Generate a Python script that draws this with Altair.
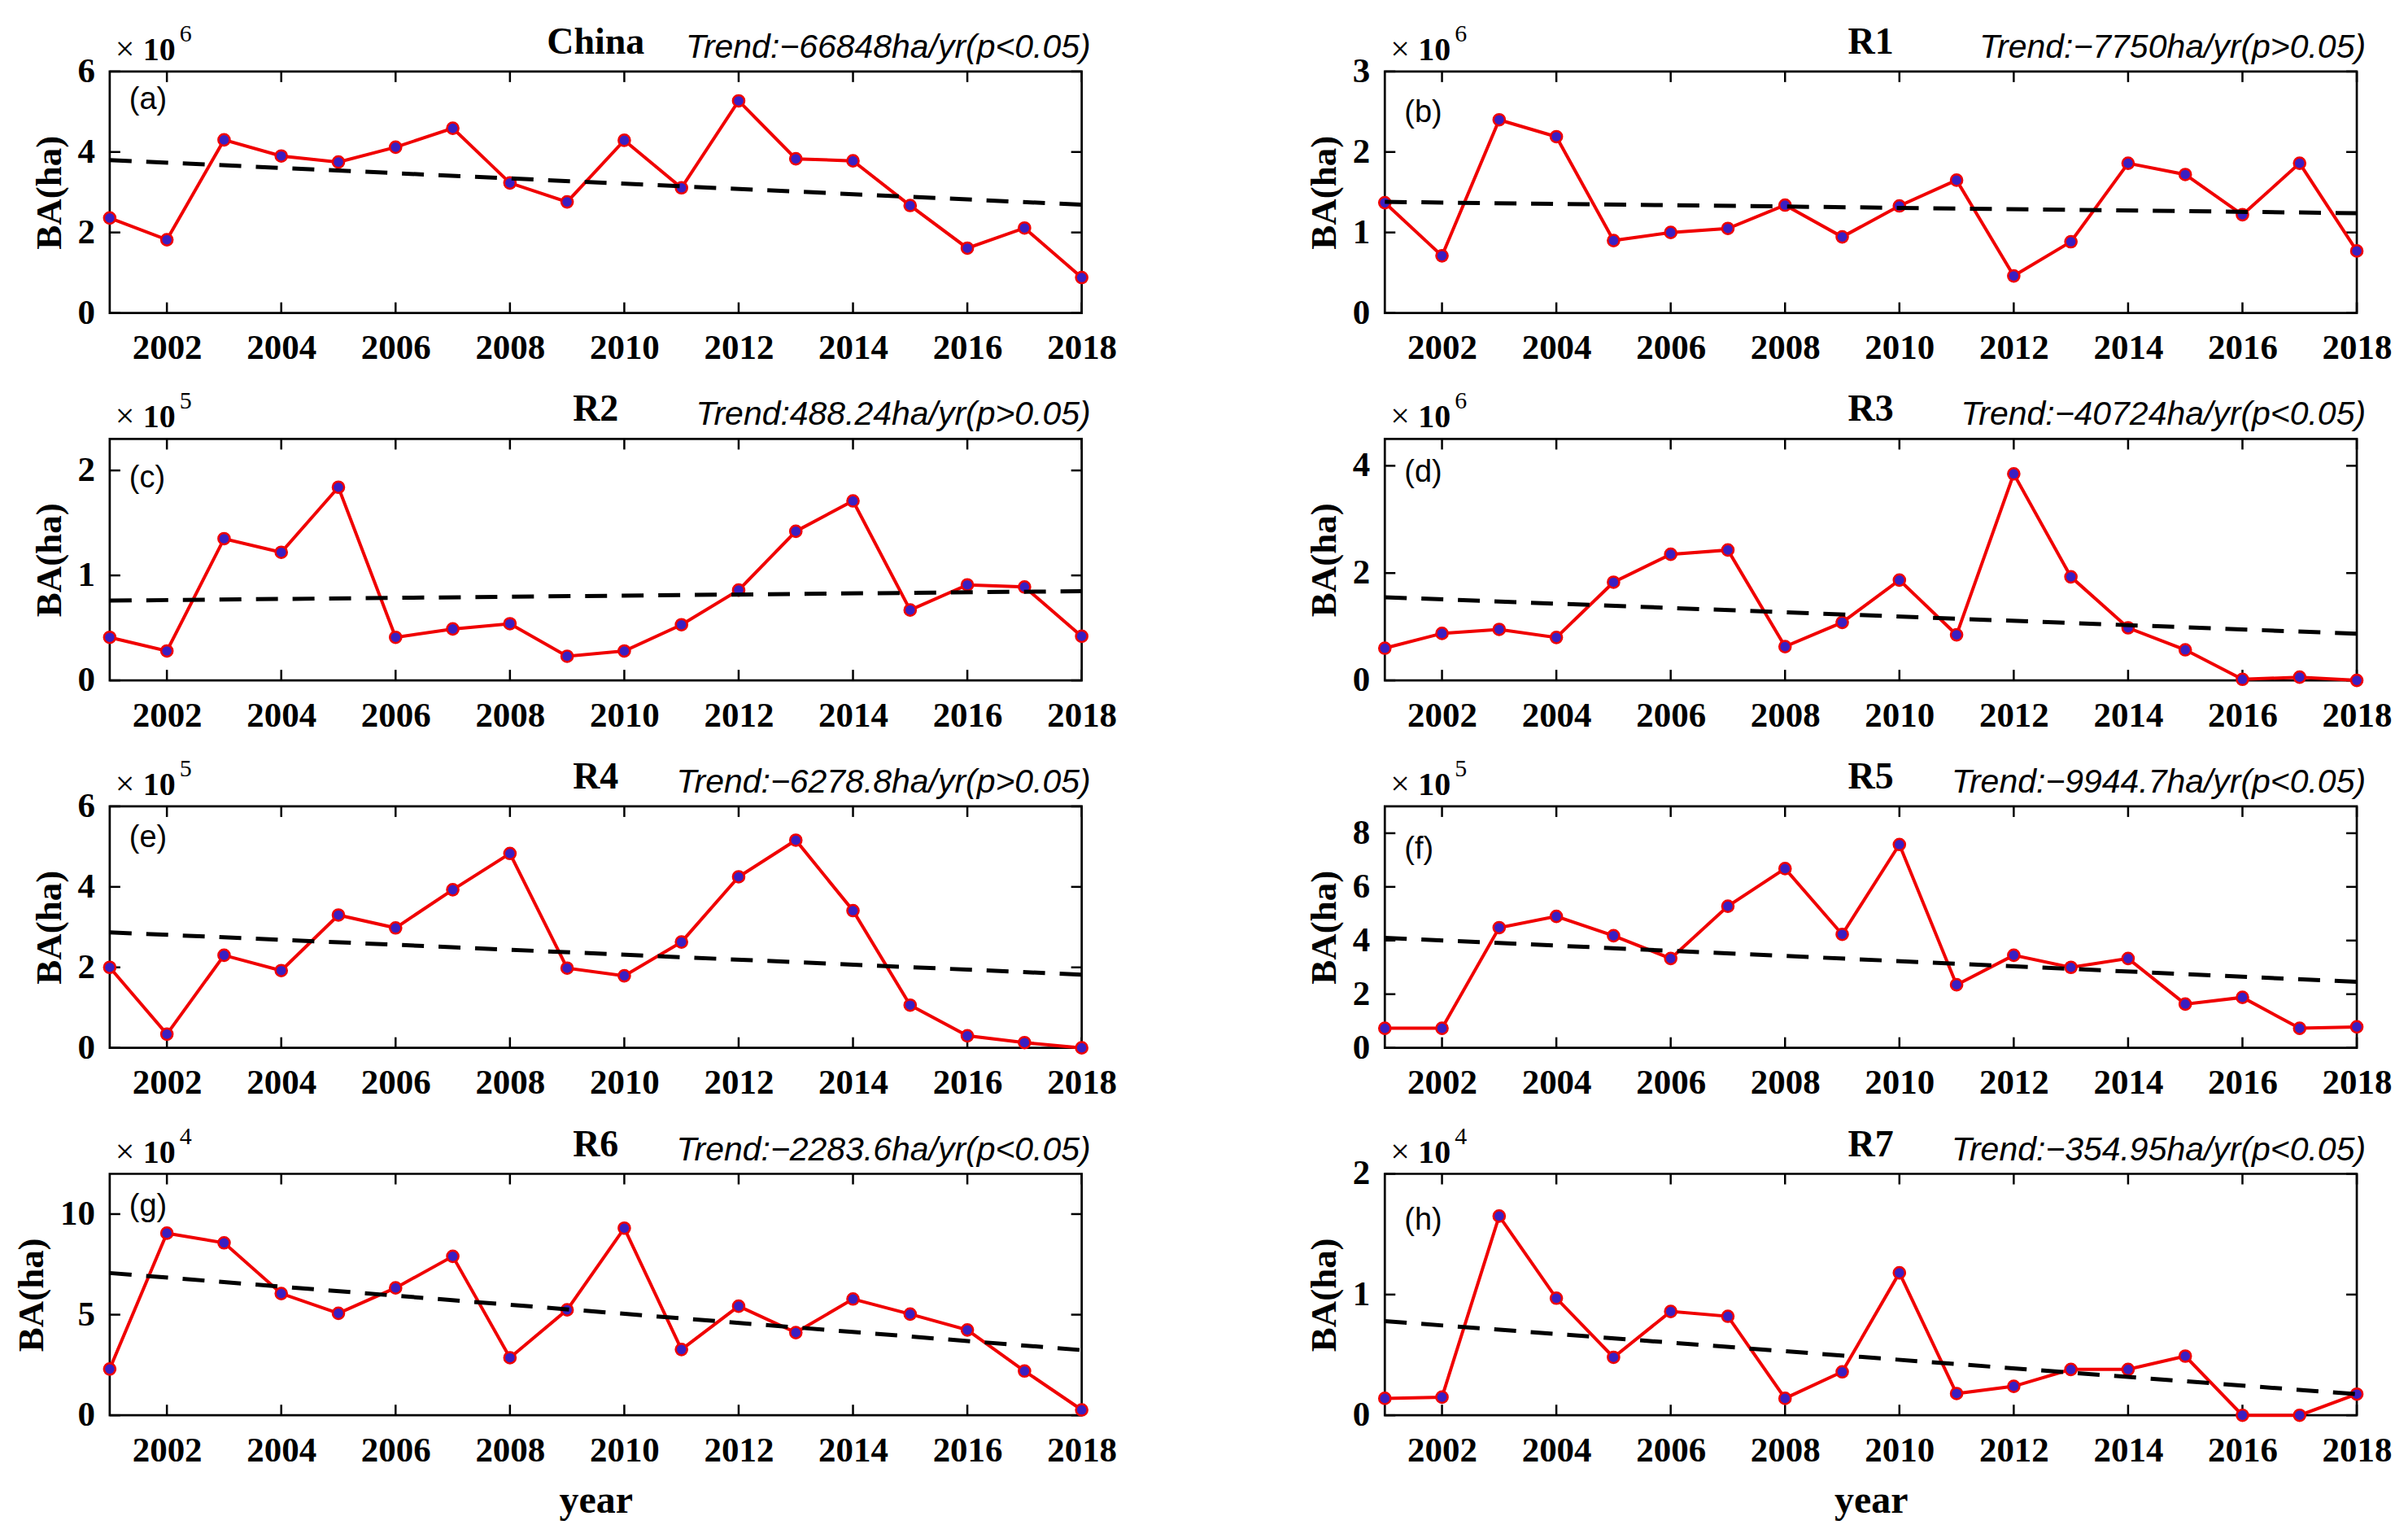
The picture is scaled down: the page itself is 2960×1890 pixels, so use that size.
import altair as alt
import pandas as pd

years = list(range(2001, 2019))
x_ticks = [2002, 2004, 2006, 2008, 2010, 2012, 2014, 2016, 2018]

names = ["China", "R1", "R2", "R3", "R4", "R5", "R6", "R7"]
letters = ["(a)", "(b)", "(c)", "(d)", "(e)", "(f)", "(g)", "(h)"]
trend_labels = [
    "Trend:\u221266848ha/yr(p<0.05)",
    "Trend:\u22127750ha/yr(p>0.05)",
    "Trend:488.24ha/yr(p>0.05)",
    "Trend:\u221240724ha/yr(p<0.05)",
    "Trend:\u22126278.8ha/yr(p>0.05)",
    "Trend:\u22129944.7ha/yr(p<0.05)",
    "Trend:\u22122283.6ha/yr(p<0.05)",
    "Trend:\u2212354.95ha/yr(p<0.05)",
]
exponents = ["6", "6", "5", "6", "5", "5", "4", "4"]
y_max = [6, 3, 2.3, 4.5, 6, 9, 12, 2]
y_ticks = [[0, 2, 4, 6], [0, 1, 2, 3], [0, 1, 2], [0, 2, 4],
           [0, 2, 4, 6], [0, 2, 4, 6, 8], [0, 5, 10], [0, 1, 2]]

# burned area, in units of 10^exponent ha
ba_china = [2.36, 1.82, 4.30, 3.90, 3.75, 4.12, 4.59, 3.23, 2.76, 4.29, 3.11, 5.27, 3.83, 3.78, 2.67, 1.61, 2.11, 0.88]
ba_r1 = [1.37, 0.71, 2.40, 2.19, 0.90, 1.00, 1.05, 1.34, 0.945, 1.33, 1.65, 0.46, 0.885, 1.86, 1.72, 1.22, 1.86, 0.77]
ba_r2 = [0.41, 0.28, 1.35, 1.22, 1.84, 0.41, 0.49, 0.54, 0.23, 0.28, 0.53, 0.86, 1.42, 1.71, 0.67, 0.91, 0.89, 0.42]
ba_r3 = [0.60, 0.875, 0.95, 0.80, 1.83, 2.35, 2.43, 0.63, 1.08, 1.87, 0.85, 3.85, 1.93, 0.98, 0.57, 0.02, 0.06, 0.0]
ba_r4 = [2.00, 0.34, 2.30, 1.92, 3.30, 2.98, 3.93, 4.83, 1.98, 1.79, 2.63, 4.25, 5.16, 3.41, 1.06, 0.30, 0.13, 0.0]
ba_r5 = [0.73, 0.73, 4.48, 4.90, 4.18, 3.33, 5.28, 6.68, 4.23, 7.58, 2.35, 3.45, 3.00, 3.33, 1.63, 1.88, 0.73, 0.78]
ba_r6 = [2.30, 9.05, 8.57, 6.05, 5.07, 6.33, 7.90, 2.86, 5.24, 9.30, 3.27, 5.42, 4.11, 5.78, 5.03, 4.24, 2.20, 0.27]
ba_r7 = [0.14, 0.15, 1.65, 0.97, 0.48, 0.86, 0.82, 0.14, 0.36, 1.18, 0.18, 0.24, 0.38, 0.38, 0.49, 0.0, 0.0, 0.175]
values = [ba_china, ba_r1, ba_r2, ba_r3, ba_r4, ba_r5, ba_r6, ba_r7]

# linear trend line values at 2001 and 2018
trend_years = [2001, 2018]
trend_start = [3.80, 1.38, 0.76, 1.55, 2.87, 4.10, 7.07, 0.78]
trend_end = [2.69, 1.24, 0.85, 0.87, 1.82, 2.46, 3.24, 0.175]

# styling
W, H = 1196, 297
SERIF = "Liberation Serif"
SANS = "Liberation Sans"
RED = "#f00000"
BLUE = "#3a1fc2"
TICK = 13
LABEL_FS = 43
LABEL_PAD = 18
label_dy = [35, 51, 49, 42, 39, 53, 41, 58]


def panel(i, bottom):
    df = pd.DataFrame({"year": years, "ba": values[i]})
    tr = pd.DataFrame({"year": trend_years, "ba": [trend_start[i], trend_end[i]]})
    xt = pd.DataFrame({"year": x_ticks})
    yt = pd.DataFrame({"ba": y_ticks[i]})

    # widest y tick label (bold serif digits are half an em wide)
    max_digits = max(len(str(v)) for v in y_ticks[i])
    title_pad = LABEL_PAD + max_digits * LABEL_FS * 0.5 + 12

    xs = alt.Scale(domain=[2001, 2018], nice=False, zero=False)
    ys = alt.Scale(domain=[0, y_max[i]], nice=False, zero=False)
    xaxis = alt.Axis(values=x_ticks, format="d", labelFont=SERIF, labelFontWeight="bold",
                     labelFontSize=LABEL_FS, labelColor="black", labelPadding=22,
                     labelFlush=False, labelOverlap=False, ticks=False, tickSize=0,
                     domain=False, grid=False, titleFont=SERIF, titleFontWeight="bold",
                     titleFontSize=48, titleColor="black", titlePadding=16)
    yaxis = alt.Axis(values=y_ticks[i], labels=False, ticks=False, tickSize=0,
                     domain=False, grid=False,
                     titleFont=SERIF, titleFontWeight="bold", titleFontSize=45,
                     titleColor="black", titlePadding=title_pad)
    X = alt.X("year:Q", scale=xs, axis=xaxis, title="year" if bottom else None)
    Y = alt.Y("ba:Q", scale=ys, axis=yaxis, title="BA(ha)")

    line = alt.Chart(df).mark_line(color=RED, strokeWidth=4).encode(x=X, y=Y)
    pts = alt.Chart(df).mark_circle(fill=BLUE, stroke=RED, strokeWidth=2.5, size=200,
                                    opacity=1).encode(x=X, y=Y)
    trend = alt.Chart(tr).mark_line(color="black", strokeWidth=5,
                                    strokeDash=[27, 18]).encode(x=X, y=Y)

    rule = dict(color="black", strokeWidth=2.5)
    t_bottom = alt.Chart(xt).mark_rule(**rule).encode(x=X, y=alt.value(H), y2=alt.value(H - TICK))
    t_top = alt.Chart(xt).mark_rule(**rule).encode(x=X, y=alt.value(0), y2=alt.value(TICK))
    t_left = alt.Chart(yt).mark_rule(**rule).encode(y=Y, x=alt.value(0), x2=alt.value(TICK))
    t_right = alt.Chart(yt).mark_rule(**rule).encode(y=Y, x=alt.value(W), x2=alt.value(W - TICK))
    y_labels = alt.Chart(yt).mark_text(align="right", baseline="middle", dx=-LABEL_PAD,
                                       font=SERIF, fontWeight="bold", fontSize=LABEL_FS,
                                       color="black").encode(
        y=Y, x=alt.value(0), text=alt.Text("ba:Q", format="d"))

    def txt(s, x, y, **kw):
        return alt.Chart(pd.DataFrame({"t": [s]})).mark_text(**kw).encode(
            text="t:N", x=alt.value(x), y=alt.value(y))

    title = txt(names[i], W / 2, -22, font=SERIF, fontWeight="bold", fontSize=46,
                align="center", baseline="alphabetic", color="black")
    trend_t = txt(trend_labels[i], W + 11, -17, font=SANS, fontStyle="italic", fontSize=41,
                  align="right", baseline="alphabetic", color="black")
    times = txt("\u00d7", 7, -14, font=SERIF, fontSize=42, align="left",
                baseline="alphabetic", color="black")
    ten = txt("10", 41, -14, font=SERIF, fontWeight="bold", fontSize=40, align="left",
              baseline="alphabetic", color="black")
    expo = txt(exponents[i], 86, -37, font=SERIF, fontSize=30, align="left",
               baseline="alphabetic", color="black")
    letter = txt(letters[i], 24, label_dy[i], font=SANS, fontSize=38, align="left",
                 baseline="middle", color="black")

    return alt.layer(t_bottom, t_top, t_left, t_right, y_labels, line, pts, trend,
                     title, trend_t, times, ten, expo, letter).properties(width=W, height=H)


panels = [panel(i, i >= 6) for i in range(8)]

chart = alt.concat(*panels, columns=2, spacing={"row": 155, "column": 373},
                   bounds="flush").properties(
    padding={"left": 7, "top": 16, "right": 10, "bottom": 10},
    background="white",
).configure_view(stroke="black", strokeWidth=2.7).configure_axis(grid=False)

chart.save("out.html", embed_options={"renderer": "svg", "actions": False})
